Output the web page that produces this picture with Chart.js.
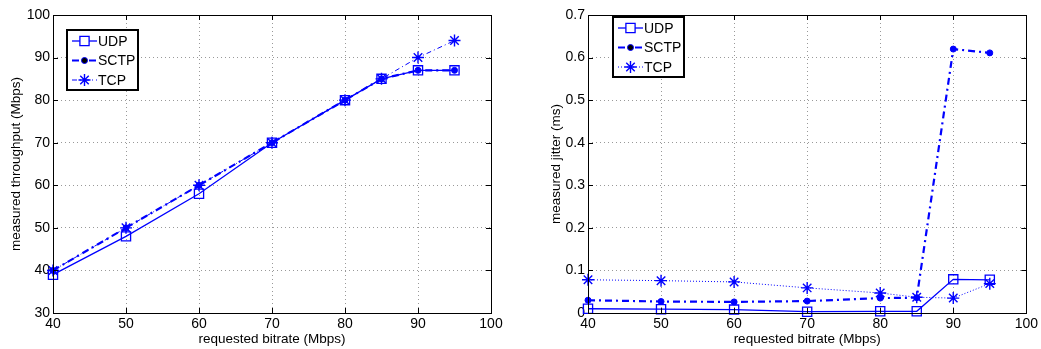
<!DOCTYPE html>
<html>
<head>
<meta charset="utf-8">
<script src="https://cdn.jsdelivr.net/npm/chart.js@4"></script>
<style>
  body { margin: 0; background: #fff; }
  .wrap { position: absolute; top: 0; }
</style>
</head>
<body>
<div class="wrap" style="left:0"><canvas id="throughputChart" width="520" height="349"></canvas></div>
<div class="wrap" style="left:520px"><canvas id="jitterChart" width="521" height="349"></canvas></div>
<script>
// requested bitrate (Mbps)
var bitrate = [40, 50, 60, 70, 80, 85, 90, 95];

// measured throughput (Mbps)
var udpThroughput  = [39, 48, 58, 70, 80, 85, 87, 87];
var sctpThroughput = [40, 50, 60, 70, 80, 85, 87, 87];
var tcpThroughput  = [40, 50, 60, 70, 80, 85, 90, 94];

// measured jitter (ms)
var udpJitter  = [0.010, 0.009, 0.008, 0.003, 0.004, 0.004, 0.079, 0.078];
var sctpJitter = [0.030, 0.027, 0.026, 0.028, 0.035, 0.036, 0.620, 0.611];
var tcpJitter  = [0.078, 0.076, 0.073, 0.059, 0.047, 0.037, 0.035, 0.069];

var seriesNames = ['UDP', 'SCTP', 'TCP'];

var blue = 'rgb(0, 0, 255)';
var font = "'Liberation Sans', Arial, Helvetica, sans-serif";

function points(ys) {
    var out = [];
    for (var i = 0; i < bitrate.length; i++) out.push({x: bitrate[i], y: ys[i]});
    return out;
}

function makeDatasets(udp, sctp, tcp, tcpDash) {
    return [{
        label: seriesNames[0],
        data: points(udp),
        borderColor: blue,
        backgroundColor: 'rgba(0,0,0,0)',
        borderWidth: 1.3,
        pointStyle: 'rect',
        pointRadius: 6.5,
        pointBorderWidth: 1.3,
        pointBorderColor: blue,
        pointBackgroundColor: 'rgba(0,0,0,0)',
        clip: false
    }, {
        label: seriesNames[1],
        data: points(sctp),
        borderColor: blue,
        backgroundColor: blue,
        borderWidth: 2.2,
        borderDash: [7, 4, 2, 4],
        pointStyle: 'circle',
        pointRadius: 3,
        pointBorderWidth: 1,
        pointBackgroundColor: blue,
        clip: false
    }, {
        label: seriesNames[2],
        data: points(tcp),
        borderColor: blue,
        backgroundColor: blue,
        borderWidth: 1,
        borderDash: tcpDash,
        pointStyle: 'star',
        pointRadius: 6,
        pointBorderWidth: 1.4,
        pointBorderColor: blue,
        clip: false
    }];
}

// matlab style box with inward ticks
var boxPlugin = {
    id: 'matlabBox',
    afterDatasetsDraw: function(chart) {
        var ctx = chart.ctx, a = chart.chartArea;
        var xs = chart.scales.x, ys = chart.scales.y;
        ctx.save();
        ctx.strokeStyle = '#000';
        ctx.lineWidth = 1;
        ctx.setLineDash([]);
        ctx.beginPath();
        xs.ticks.forEach(function(t) {
            var px = Math.round(xs.getPixelForValue(t.value)) + 0.5;
            ctx.moveTo(px, a.bottom); ctx.lineTo(px, a.bottom - 5);
            ctx.moveTo(px, a.top); ctx.lineTo(px, a.top + 5);
        });
        ys.ticks.forEach(function(t) {
            var py = Math.round(ys.getPixelForValue(t.value)) + 0.5;
            ctx.moveTo(a.left, py); ctx.lineTo(a.left + 5, py);
            ctx.moveTo(a.right, py); ctx.lineTo(a.right - 5, py);
        });
        ctx.stroke();
        ctx.strokeRect(Math.round(a.left) + 0.5, Math.round(a.top) + 0.5,
                       Math.round(a.right - a.left), Math.round(a.bottom - a.top));
        ctx.restore();
    }
};

var legendPlugin = {
    id: 'boxLegend',
    afterDraw: function(chart, args, opts) {
        var ctx = chart.ctx;
        var x = opts.x, y = opts.y, w = opts.w, h = opts.h;
        ctx.save();
        ctx.fillStyle = '#fff';
        ctx.fillRect(x, y, w, h);
        ctx.strokeStyle = '#000';
        ctx.lineWidth = 2;
        ctx.setLineDash([]);
        ctx.strokeRect(x, y, w, h);
        ctx.font = '14px ' + font;
        ctx.textBaseline = 'middle';
        chart.data.datasets.forEach(function(ds, i) {
            var cy = y + 11 + i * 19.5;
            ctx.strokeStyle = blue;
            ctx.lineWidth = ds.borderWidth;
            ctx.setLineDash(ds.borderDash || []);
            ctx.beginPath();
            ctx.moveTo(x + 5, cy); ctx.lineTo(x + 30, cy);
            ctx.stroke();
            ctx.setLineDash([]);
            ctx.lineWidth = ds.pointBorderWidth;
            Chart.helpers.drawPoint(ctx, {
                pointStyle: ds.pointStyle,
                radius: ds.pointRadius,
                borderWidth: ds.pointBorderWidth,
                rotation: 0
            }, x + 17.5, cy);
            ctx.fillStyle = '#000';
            ctx.fillText(ds.label, x + 31, cy + 1);
        });
        ctx.restore();
    }
};

function makeOptions(cfg) {
    return {
        responsive: false,
        animation: false,
        layout: { padding: cfg.padding },
        scales: {
            x: {
                type: 'linear',
                min: 40, max: 100,
                afterFit: function(s) { s.height = cfg.xHeight; },
                ticks: { stepSize: 10, color: '#000', padding: 3, font: { family: font, size: 14 } },
                grid: { color: '#999', drawTicks: false },
                border: { display: false, dash: [1, 3] },
                title: { display: true, text: 'requested bitrate (Mbps)', color: '#000', padding: { top: 0, bottom: 2 }, font: { family: font, size: 13.5 } }
            },
            y: {
                min: cfg.yMin, max: cfg.yMax,
                afterFit: function(s) { s.width = cfg.yWidth; },
                ticks: { stepSize: cfg.yStep, color: '#000', padding: 3, font: { family: font, size: 14 },
                         callback: function(v) { return Number(v.toFixed(1)).toString(); } },
                grid: { color: '#999', drawTicks: false },
                border: { display: false, dash: [1, 3] },
                title: { display: true, text: cfg.yTitle, color: '#000', padding: 0, font: { family: font, size: 13.5 } }
            }
        },
        plugins: {
            legend: { display: false },
            tooltip: { enabled: false },
            boxLegend: cfg.legend
        }
    };
}

new Chart(document.getElementById('throughputChart').getContext('2d'), {
    type: 'line',
    data: { datasets: makeDatasets(udpThroughput, sctpThroughput, tcpThroughput, [5, 3, 1, 3]) },
    options: makeOptions({
        padding: { left: 8, top: 15, right: 29, bottom: 0 },
        xHeight: 36, yWidth: 45,
        yMin: 30, yMax: 100, yStep: 10,
        yTitle: 'measured throughput (Mbps)',
        legend: { x: 67, y: 30, w: 71, h: 60 }
    }),
    plugins: [boxPlugin, legendPlugin]
});

new Chart(document.getElementById('jitterChart').getContext('2d'), {
    type: 'line',
    data: { datasets: makeDatasets(udpJitter, sctpJitter, tcpJitter, [1, 2]) },
    options: makeOptions({
        padding: { left: 28, top: 15, right: 14, bottom: 0 },
        xHeight: 36, yWidth: 40,
        yMin: 0, yMax: 0.7, yStep: 0.1,
        yTitle: 'measured jitter (ms)',
        legend: { x: 93, y: 17, w: 71, h: 60 }
    }),
    plugins: [boxPlugin, legendPlugin]
});
</script>
</body>
</html>
